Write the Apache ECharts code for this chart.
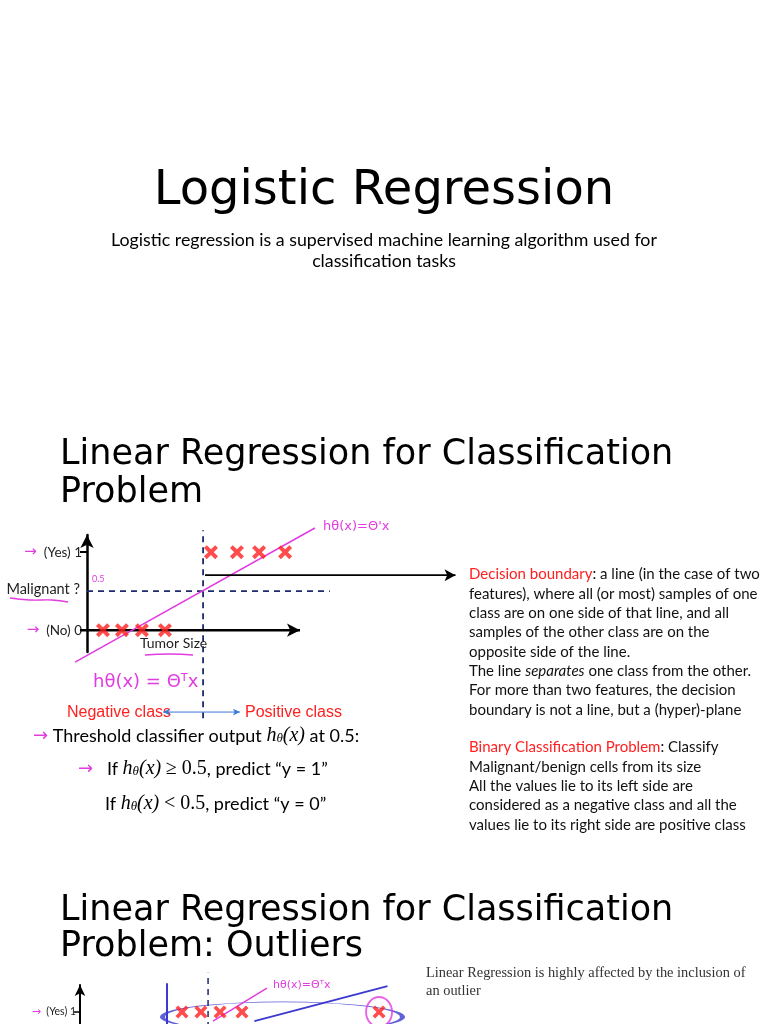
<!DOCTYPE html>
<html>
<head>
<meta charset="utf-8">
<script src="https://cdn.jsdelivr.net/npm/echarts@6/dist/echarts.min.js"></script>
<style>
html, body { margin: 0; padding: 0; background: #fff; }
#main { width: 768px; height: 1024px; }
</style>
</head>
<body>
<div id="main"></div>
<script>
// ---- slide 2 figure: tumor size vs malignant (0/1) ----
var yTickValues = [0, 1];
var yTickNames = ['(No) 0', '(Yes) 1'];
var sizeAxisSpan = [-0.33, 10];
var benignSizes = [0.75, 1.64, 2.58, 3.66];
var malignantSizes = [5.82, 7.04, 8.08, 9.3];
var hypothesisX = [-0.56, 10.7];
var hypothesisY = [-0.41, 1.31];
var threshold = 0.5;
var thresholdEndX = 11.4;
var boundaryX = 5.45;
var boundaryY = [-1.13, 1.28];
var pointerY = 0.705;
var pointerX = [5.54, 17.3];
var classArrowX = [3.57, 7.18];
var classArrowY = -1.05;

// ---- slide 3 figure: same with an outlier ----
var outlierYes = [5.44, 6.45, 7.47, 8.64];
var outlierPoint = [15.95];
var boundary2X = 6.83;
var boundary2Y = [-0.33, 1.56];
var hypo2X = [7.09, 9.97];
var hypo2Y = [0.87, 1.34];
var fit2X = [9.3, 16.4];
var fit2Y = [0.87, 1.37];
var wall2X = 4.64;
var wall2Y = [-0.33, 1.41];

var RED = '#ff2020';
var PINK = '#e13ce0';
var NAVY = '#1c2b6b';
var BLUE = '#3a3ad0';

var cross = 'path://M2,0 L5,3 L8,0 L10,2 L7,5 L10,8 L8,10 L5,7 L2,10 L0,8 L3,5 L0,2 Z';

function txt(x, y, s, size, color, o) {
  o = o || {};
  return {
    type: 'text', x: x, y: y, silent: true,
    style: {
      text: s, fontSize: size, fontFamily: o.family || 'Lato',
      fontStyle: o.italic ? 'italic' : 'normal',
      fill: color || '#000', align: o.align || 'left',
      verticalAlign: o.va || 'middle', lineHeight: o.lh, rich: o.rich
    }
  };
}

// hand-drawn style underline
function squiggle(pts) {
  return { type: 'polyline', silent: true, shape: { points: pts, smooth: 0.5 }, style: { stroke: PINK, lineWidth: 1.4, fill: null } };
}

// straight segment with arrow heads, drawn by the line series itself
function arrowLine(xs, ys, color, width, heads, size) {
  return {
    type: 'line', xAxisIndex: 0, yAxisIndex: 0, clip: false, z: 3,
    showSymbol: true, symbolSize: size, symbol: 'none',
    lineStyle: { color: color, width: width },
    itemStyle: { color: color },
    data: xs.map(function (x, i) {
      var d = { value: [x, ys[i]] };
      if (heads[i]) { d.symbol = 'arrow'; d.symbolRotate = i === 0 ? 90 : -90; }
      return d;
    })
  };
}

var mathRich = function (size) {
  return {
    a: { fontSize: size, fill: PINK, fontFamily: 'DejaVu Sans' },
    h: { fontSize: size + 2, fontFamily: 'Liberation Serif', fontStyle: 'italic', fill: '#000' },
    t: { fontSize: size - 5, fontFamily: 'Liberation Serif', fontStyle: 'italic', fill: '#000', padding: [6, 0, 0, 0] },
    m: { fontSize: size + 2, fontFamily: 'Liberation Serif', fill: '#000' }
  };
};

var bodyRich = {
  r: { fontSize: 15, lineHeight: 19.3, fill: RED, fontFamily: 'Lato' },
  i: { fontSize: 15, lineHeight: 19.3, fill: '#111', fontFamily: 'Lato', fontStyle: 'italic' }
};

var chart = echarts.init(document.getElementById('main'));

var option = {
  backgroundColor: '#fff',
  animation: false,
  grid: [
    { left: 1.8, top: 535, width: 468.6, height: 117, containLabel: false, outerBoundsMode: 'none' },
    { left: 80, top: 985, width: 360, height: 120, containLabel: false, outerBoundsMode: 'none' }
  ],
  xAxis: [
    {
      gridIndex: 0, type: 'value', min: -4, max: 18,
      axisLine: { show: false, onZero: false }, axisTick: { show: false }, axisLabel: { show: false }, splitLine: { show: false }
    },
    {
      gridIndex: 1, type: 'value', min: 0, max: 19.2,
      axisLine: { show: false }, axisTick: { show: false }, axisLabel: { show: false }, splitLine: { show: false }
    }
  ],
  yAxis: [
    {
      // placed at size 0 (85.2px inside the grid's left edge)
      gridIndex: 0, type: 'value', min: -0.28, max: 1.22, offset: -85.2,
      axisLine: { onZero: false, symbol: ['none', 'arrow'], symbolSize: [10, 13], lineStyle: { color: '#000', width: 2.5 } },
      axisTick: { show: true, customValues: [1], length: 7, lineStyle: { color: '#000', width: 2 } },
      axisLabel: {
        customValues: yTickValues, margin: 5,
        fontFamily: 'Lato', fontSize: 13.5, color: '#222',
        formatter: function (v) {
          return '{p|→}  ' + yTickNames[yTickValues.indexOf(v)];
        },
        rich: { p: { color: PINK, fontSize: 15, fontFamily: 'DejaVu Sans' } }
      },
      splitLine: { show: false }
    },
    {
      gridIndex: 1, type: 'value', min: -0.33, max: 1.386,
      axisLine: { onZero: false, symbol: ['none', 'arrow'], symbolSize: [8, 11], lineStyle: { color: '#000', width: 2 } },
      axisTick: { show: true, customValues: [1], length: 6, lineStyle: { color: '#000', width: 1.5 } },
      axisLabel: {
        customValues: [1], margin: 4, fontFamily: 'Lato', fontSize: 10.5, color: '#222',
        formatter: function () { return '{p|→}  ' + yTickNames[1]; },
        rich: { p: { color: PINK, fontSize: 11, fontFamily: 'DejaVu Sans' } }
      },
      splitLine: { show: false }
    }
  ],
  series: [
    // horizontal size axis with its arrow
    arrowLine(sizeAxisSpan, [0, 0], '#000', 2.5, [false, true], [10, 13]),
    {
      type: 'line', xAxisIndex: 0, yAxisIndex: 0, clip: false, symbol: 'none', z: 3,
      lineStyle: { color: PINK, width: 1.5 },
      data: hypothesisX.map(function (x, i) { return [x, hypothesisY[i]]; })
    },
    {
      type: 'line', xAxisIndex: 0, yAxisIndex: 0, clip: false, symbol: 'none', z: 2,
      lineStyle: { color: NAVY, width: 1.8, type: [6, 5] },
      data: [[0, threshold], [thresholdEndX, threshold]]
    },
    {
      type: 'line', xAxisIndex: 0, yAxisIndex: 0, clip: false, symbol: 'none', z: 2,
      lineStyle: { color: NAVY, width: 1.8, type: [6, 5] },
      data: boundaryY.map(function (y) { return [boundaryX, y]; })
    },
    {
      type: 'scatter', xAxisIndex: 0, yAxisIndex: 0, symbol: cross, symbolSize: 14, z: 4,
      itemStyle: { color: RED },
      data: benignSizes.map(function (x) { return [x, 0]; })
    },
    {
      type: 'scatter', xAxisIndex: 0, yAxisIndex: 0, symbol: cross, symbolSize: 14, z: 4,
      itemStyle: { color: RED },
      data: malignantSizes.map(function (x) { return [x, 1]; })
    },
    arrowLine(pointerX, [pointerY, pointerY], '#000', 1.8, [false, true], [9, 11]),
    arrowLine(classArrowX, [classArrowY, classArrowY], '#3b78d8', 1, [true, true], [5, 7]),
    // outlier figure
    {
      type: 'line', xAxisIndex: 1, yAxisIndex: 1, clip: false, symbol: 'none',
      lineStyle: { color: NAVY, width: 1.5, type: [6, 5] },
      data: boundary2Y.map(function (y) { return [boundary2X, y]; })
    },
    {
      type: 'line', xAxisIndex: 1, yAxisIndex: 1, clip: false, symbol: 'none',
      lineStyle: { color: BLUE, width: 2 },
      data: wall2Y.map(function (y) { return [wall2X, y]; })
    },
    {
      type: 'line', xAxisIndex: 1, yAxisIndex: 1, clip: false, symbol: 'none',
      lineStyle: { color: PINK, width: 1.5 },
      data: hypo2X.map(function (x, i) { return [x, hypo2Y[i]]; })
    },
    {
      type: 'line', xAxisIndex: 1, yAxisIndex: 1, clip: false, symbol: 'none',
      lineStyle: { color: BLUE, width: 1.8 },
      data: fit2X.map(function (x, i) { return [x, fit2Y[i]]; })
    },
    {
      type: 'scatter', xAxisIndex: 1, yAxisIndex: 1, clip: false, symbol: 'circle', z: 1,
      itemStyle: { color: 'rgba(0,0,0,0)', borderColor: BLUE, borderWidth: 1.8 },
      data: [{ value: [10.8, 0.93], symbolSize: [240, 30] }]
    },
    {
      type: 'scatter', xAxisIndex: 1, yAxisIndex: 1, clip: false, symbol: 'circle', z: 1,
      itemStyle: { color: 'rgba(0,0,0,0)', borderColor: PINK, borderWidth: 2 },
      data: outlierPoint.map(function (x) { return { value: [x, 1], symbolSize: [26, 30] }; })
    },
    {
      type: 'scatter', xAxisIndex: 1, yAxisIndex: 1, clip: false, symbol: cross, symbolSize: 13, z: 4,
      itemStyle: { color: RED },
      data: outlierYes.concat(outlierPoint).map(function (x) { return [x, 1]; })
    }
  ],
  graphic: [
    txt(384, 192, 'Logistic Regression', 48, '#000', { family: 'DejaVu Sans', align: 'center' }),
    txt(384, 240, 'Logistic regression is a supervised machine learning algorithm used for', 17.8, '#000', { align: 'center' }),
    txt(384, 261, 'classification tasks', 17.8, '#000', { align: 'center' }),

    txt(60, 455, 'Linear Regression for Classification', 35, '#000', { family: 'DejaVu Sans' }),
    txt(60, 493, 'Problem', 35, '#000', { family: 'DejaVu Sans' }),

    txt(80, 589, 'Malignant ?', 14.5, '#222', { align: 'right' }),
    squiggle([[10, 598], [30, 600], [52, 600], [68, 602]]),
    txt(140, 643, 'Tumor Size', 14, '#222'),
    squiggle([[145, 655], [170, 654], [193, 655]]),
    txt(92, 579, '0.5', 9, PINK),
    txt(323, 527, 'hθ(x)=Θ\'x', 13, PINK, { family: 'DejaVu Sans' }),
    txt(93, 682, 'hθ(x) = Θᵀx', 18, PINK, { family: 'DejaVu Sans' }),
    txt(67, 713, 'Negative class', 16, RED, { family: 'Liberation Sans' }),
    txt(245, 713, 'Positive class', 16, RED, { family: 'Liberation Sans' }),

    txt(33, 736, '{a|→} Threshold classifier output {h|h}{t|θ}{h|(x)} at 0.5:', 18, '#000', { rich: mathRich(18) }),
    txt(78, 769, '{a|→}   If {h|h}{t|θ}{h|(x)} {m|≥ 0.5}, predict “y = 1”', 18, '#000', { rich: mathRich(18) }),
    txt(105, 804, 'If {h|h}{t|θ}{h|(x)} {m|< 0.5}, predict “y = 0”', 18, '#000', { rich: mathRich(18) }),

    txt(469, 565, '{r|Decision boundary}: a line (in the case of two\nfeatures), where all (or most) samples of one\nclass are on one side of that line, and all\nsamples of the other class are on the\nopposite side of the line.\nThe line {i|separates} one class from the other.\nFor more than two features, the decision\nboundary is not a line, but a (hyper)-plane',
      15, '#111', { va: 'top', lh: 19.3, rich: bodyRich }),
    txt(469, 738, '{r|Binary Classification Problem}: Classify\nMalignant/benign cells from its size\nAll the values lie to its left side are\nconsidered as a negative class and all the\nvalues lie to its right side are positive class',
      15, '#111', { va: 'top', lh: 19.3, rich: bodyRich }),

    txt(60, 911, 'Linear Regression for Classification', 35, '#000', { family: 'DejaVu Sans' }),
    txt(60, 947, 'Problem: Outliers', 35, '#000', { family: 'DejaVu Sans' }),

    txt(273, 985, 'hθ(x)=Θᵀx', 11, PINK, { family: 'DejaVu Sans' }),
    txt(426, 973, 'Linear Regression is highly affected by the inclusion of', 14.4, '#333', { family: 'Liberation Serif' }),
    txt(426, 991, 'an outlier', 14.4, '#333', { family: 'Liberation Serif' })
  ]
};

chart.setOption(option);
</script>
</body>
</html>
